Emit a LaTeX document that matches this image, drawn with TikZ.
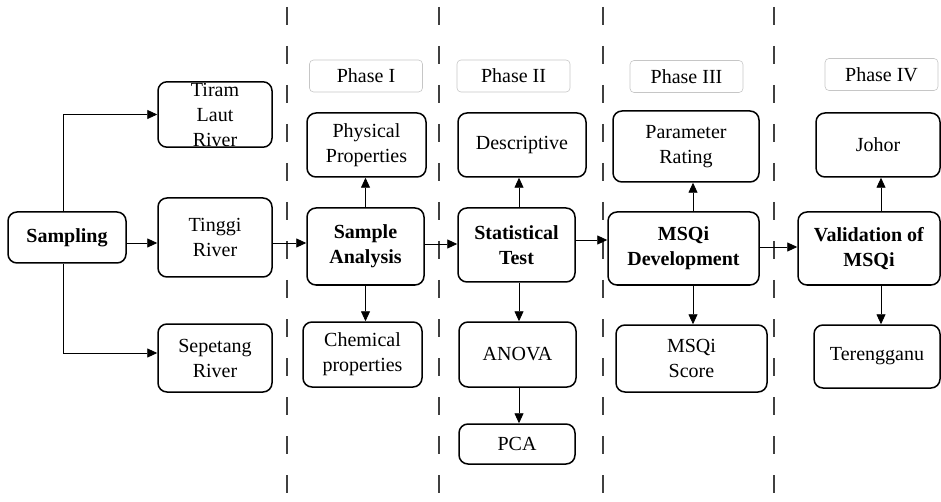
\documentclass[tikz,border=0pt]{standalone}
\usepackage{fontspec}
\setmainfont{Liberation Serif}
\usetikzlibrary{arrows.meta,positioning}

\begin{document}
\begin{tikzpicture}[x=1pt,y=-1pt,
    block/.style={draw,rounded corners=9pt,line width=1.5pt,align=center,inner sep=1pt,
      font=\fontsize{20}{25}\selectfont},
    phase/.style={draw=gray!45,line width=0.6pt,rounded corners=4pt,minimum width=113pt,
      minimum height=32pt,font=\fontsize{20}{25}\selectfont},
    link/.style={-{Triangle[length=10pt,width=9pt]},line width=0.9pt},
    divider/.style={draw=black!75,line width=1.3pt,dash pattern=on 18pt off 21pt}]
    \useasboundingbox (0,0) rectangle (941,502);
    % phase borders
    \foreach \x in {287,439,603,774}
        \draw[divider] (\x,7) -- (\x,497);
    % sampling sites
    \node [block,minimum width=118pt,minimum height=51pt] (sampling) at (67,237.5) {\textbf{Sampling}};
    \node [block,minimum width=114pt,minimum height=65pt] (tiram) at (215,114.5) {Tiram\\Laut\\River};
    \node [block,minimum width=114pt,minimum height=79pt] (tinggi) at (215,237.5) {Tinggi\\River};
    \node [block,minimum width=114pt,minimum height=68pt] (sepetang) at (215,358) {Sepetang\\River};
    % phase I
    \node [phase] (phaseI) at (366,76) {Phase I};
    \node [block,minimum width=119pt,minimum height=64pt] (physical) at (366.5,145) {Physical\\Properties};
    \node [block,minimum width=117pt,minimum height=77pt] (analysis) at (365.5,246.5) {\textbf{Sample}\\\textbf{Analysis}};
    \node [block,minimum width=119pt,minimum height=65pt] (chemical) at (362.5,354.5) {Chemical\\properties};
    % phase II
    \node [phase] (phaseII) at (513.5,76) {Phase II};
    \node [block,minimum width=128pt,minimum height=64pt] (descriptive) at (522,145) {Descriptive};
    \node [block,minimum width=117pt,minimum height=74pt] (stattest) at (516.5,245) {\textbf{Statistical}\\\textbf{Test}};
    \node [block,minimum width=117pt,minimum height=65pt] (anova) at (517.5,354.5) {ANOVA};
    \node [block,minimum width=116pt,minimum height=40pt] (pca) at (517,444) {PCA};
    % phase III
    \node [phase] (phaseIII) at (686.5,76.5) {Phase III};
    \node [block,minimum width=146pt,minimum height=71pt] (rating) at (686,146.5) {Parameter\\Rating};
    \node [block,minimum width=151pt,minimum height=73pt] (msqidev) at (683.5,248.5) {\textbf{MSQi}\\\textbf{Development}};
    \node [block,minimum width=151pt,minimum height=67pt] (score) at (691.5,358.5) {MSQi\\Score};
    % phase IV
    \node [phase] (phaseIV) at (881.5,74.5) {Phase IV};
    \node [block,minimum width=124pt,minimum height=64pt] (johor) at (878,145) {Johor};
    \node [block,minimum width=142pt,minimum height=73pt] (validation) at (869,248.5) {\textbf{Validation of}\\\textbf{MSQi}};
    \node [block,minimum width=126pt,minimum height=63pt] (terengganu) at (877,356.5) {Terengganu};
    % flow
    \draw[link] ([xshift=-4pt]sampling.north) |- (tiram.west);
    \draw[link] ([xshift=-4pt]sampling.south) |- ([yshift=5pt]sepetang.west);
    \draw[link] ([yshift=-5.5pt]sampling.east) -- ([yshift=-5.5pt]sampling.east -| tinggi.west);
    \draw[link] ([yshift=-5.5pt]tinggi.east) -- ([yshift=-5.5pt]tinggi.east -| analysis.west);
    \draw[link] ([yshift=2.5pt]analysis.east) -- ([yshift=2.5pt]analysis.east -| stattest.west);
    \draw[link] ([yshift=5pt]stattest.east) -- ([yshift=5pt]stattest.east -| msqidev.west);
    \draw[link] ([yshift=1.5pt]msqidev.east) -- ([yshift=1.5pt]msqidev.east -| validation.west);
    \draw[link] (analysis.north) -- (analysis.north |- physical.south);
    \draw[link] (analysis.south) -- (analysis.south |- chemical.north);
    \draw[link] ([xshift=2.5pt]stattest.north) -- ([xshift=2.5pt]stattest.north |- descriptive.south);
    \draw[link] ([xshift=2.5pt]stattest.south) -- ([xshift=2.5pt]stattest.south |- anova.north);
    \draw[link] ([xshift=1.5pt]anova.south) -- ([xshift=1.5pt]anova.south |- pca.north);
    \draw[link] ([xshift=9.5pt]msqidev.north) -- ([xshift=9.5pt]msqidev.north |- rating.south);
    \draw[link] ([xshift=9.5pt]msqidev.south) -- ([xshift=9.5pt]msqidev.south |- score.north);
    \draw[link] ([xshift=12pt]validation.north) -- ([xshift=12pt]validation.north |- johor.south);
    \draw[link] ([xshift=12pt]validation.south) -- ([xshift=12pt]validation.south |- terengganu.north);
\end{tikzpicture}
\end{document}
